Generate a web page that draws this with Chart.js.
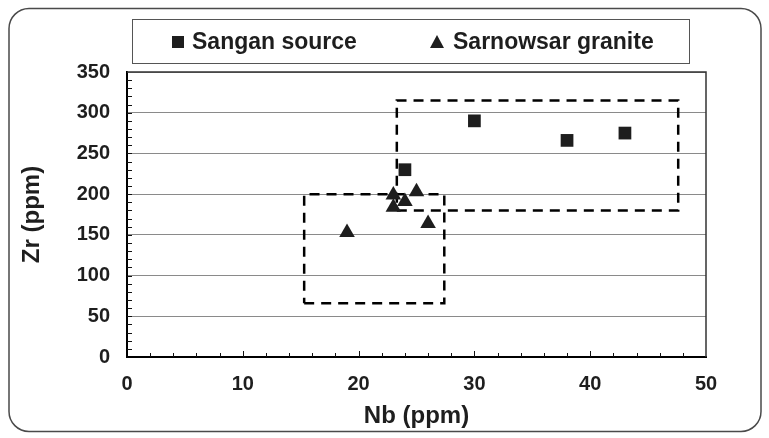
<!DOCTYPE html>
<html>
<head>
<meta charset="utf-8">
<title>Zr vs Nb</title>
<script src="https://cdn.jsdelivr.net/npm/chart.js@4"></script>
<style>
  body { margin: 0; background: #fff; }
  #wrap { width: 769px; height: 438px; }
</style>
</head>
<body>
<div id="wrap"><canvas id="zrChart" width="769" height="438"></canvas></div>
<script>
// 数据 (ppm)
const sanganNb = [24, 30, 38, 43];
const sanganZr = [230, 290, 266, 275];
const sarnowsarNb = [19, 23, 23, 24, 25, 26];
const sarnowsarZr = [153, 199, 184, 191, 203, 164];

// dashed fields: [min, max] on each axis
const granitFieldNb = [15.3, 27.4];
const granitFieldZr = [66, 200];
const sourceFieldNb = [23.3, 47.6];
const sourceFieldZr = [180, 315];

const xTicks = [0, 10, 20, 30, 40, 50];
const yTicks = [0, 50, 100, 150, 200, 250, 300, 350];

const FONT = '"Liberation Sans", Arial, sans-serif';
const INK = '#1e1e1e';

function toPoints(xs, ys) {
    return xs.map((x, i) => ({ x: x, y: ys[i] }));
}
function boxPoints(xr, yr) {
    return [
        { x: xr[0], y: yr[0] }, { x: xr[1], y: yr[0] },
        { x: xr[1], y: yr[1] }, { x: xr[0], y: yr[1] },
        { x: xr[0], y: yr[0] }
    ];
}

// frame, inside ticks, legend, outer border
const decorPlugin = {
    id: 'decor',
    afterDraw(chart) {
        const c = chart.ctx;
        const a = chart.chartArea;
        const xs = chart.scales.x, ys = chart.scales.y;
        c.save();
        // top + right border of plot area
        c.strokeStyle = '#333';
        c.lineWidth = 1.5;
        c.beginPath();
        c.moveTo(a.left, a.top);
        c.lineTo(a.right, a.top);
        c.lineTo(a.right, a.bottom);
        c.stroke();
        // inside ticks
        c.strokeStyle = '#111';
        c.lineWidth = 1;
        c.beginPath();
        for (let v = 2; v < 50; v += 2) {
            const px = Math.round(xs.getPixelForValue(v)) + 0.5;
            const len = v % 10 === 0 ? 6 : 4;
            c.moveTo(px, a.bottom);
            c.lineTo(px, a.bottom - len);
        }
        for (let v = 10; v < 350; v += 10) {
            const py = Math.round(ys.getPixelForValue(v)) + 0.5;
            c.moveTo(a.left, py);
            c.lineTo(a.left + 5, py);
        }
        c.stroke();

        // legend
        c.fillStyle = '#fff';
        c.strokeStyle = '#555';
        c.lineWidth = 1;
        c.fillRect(132.5, 19.5, 557, 44);
        c.strokeRect(132.5, 19.5, 557, 44);
        const ds = chart.data.datasets;
        c.fillStyle = INK;
        c.fillRect(172, 36, 12, 12);
        c.beginPath();
        c.moveTo(437, 35);
        c.lineTo(444, 48);
        c.lineTo(430, 48);
        c.closePath();
        c.fill();
        c.font = 'bold 23px ' + FONT;
        c.textBaseline = 'middle';
        c.fillText(ds[0].label, 192, 43);
        c.fillText(ds[1].label, 453, 43);

        // outer rounded border
        c.strokeStyle = '#4a4a4a';
        c.lineWidth = 1.5;
        c.beginPath();
        c.roundRect(9, 8.5, 752, 423, 20);
        c.stroke();
        c.restore();
    }
};

const ctx = document.getElementById('zrChart').getContext('2d');
const zrChart = new Chart(ctx, {
    type: 'scatter',
    data: {
        datasets: [{
            label: 'Sangan source',
            data: toPoints(sanganNb, sanganZr),
            pointStyle: 'rect',
            pointRadius: 9,
            backgroundColor: INK,
            borderWidth: 0,
            order: 1
        }, {
            label: 'Sarnowsar granite',
            data: toPoints(sarnowsarNb, sarnowsarZr),
            pointStyle: 'triangle',
            pointRadius: 9,
            backgroundColor: INK,
            borderWidth: 0,
            order: 1
        }, {
            label: 'granite field',
            data: boxPoints(granitFieldNb, granitFieldZr),
            showLine: true,
            pointRadius: 0,
            borderColor: '#000',
            borderWidth: 2.5,
            borderDash: [10, 7],
            fill: false,
            order: 2
        }, {
            label: 'source field',
            data: boxPoints(sourceFieldNb, sourceFieldZr),
            showLine: true,
            pointRadius: 0,
            borderColor: '#000',
            borderWidth: 2.5,
            borderDash: [10, 7],
            fill: false,
            order: 2
        }]
    },
    options: {
        responsive: false,
        animation: false,
        layout: { padding: { top: 72, right: 63, bottom: 0, left: 0 } },
        plugins: {
            legend: { display: false },
            tooltip: { enabled: false }
        },
        scales: {
            x: {
                type: 'linear',
                min: 0,
                max: 50,
                afterBuildTicks: (s) => { s.ticks = xTicks.map(v => ({ value: v })); },
                afterFit: (s) => { s.height = 81; },
                grid: { display: false },
                border: { display: true, color: '#000', width: 2 },
                ticks: {
                    color: INK,
                    padding: 7,
                    font: { family: FONT, size: 20, weight: 'bold' }
                },
                title: {
                    display: true,
                    text: 'Nb (ppm)',
                    color: INK,
                    padding: { top: 0, bottom: 7 },
                    font: { family: FONT, size: 24, weight: 'bold' }
                }
            },
            y: {
                type: 'linear',
                min: 0,
                max: 350,
                afterBuildTicks: (s) => { s.ticks = yTicks.map(v => ({ value: v })); },
                afterFit: (s) => { s.width = 127; },
                grid: { color: '#8a8a8a', lineWidth: 1, drawTicks: false },
                border: { display: true, color: '#000', width: 2 },
                ticks: {
                    color: INK,
                    padding: 17,
                    font: { family: FONT, size: 20, weight: 'bold' }
                },
                title: {
                    display: true,
                    text: 'Zr (ppm)',
                    color: INK,
                    padding: { top: 18, bottom: 0 },
                    font: { family: FONT, size: 24, weight: 'bold' }
                }
            }
        }
    },
    plugins: [decorPlugin]
});
</script>
</body>
</html>
